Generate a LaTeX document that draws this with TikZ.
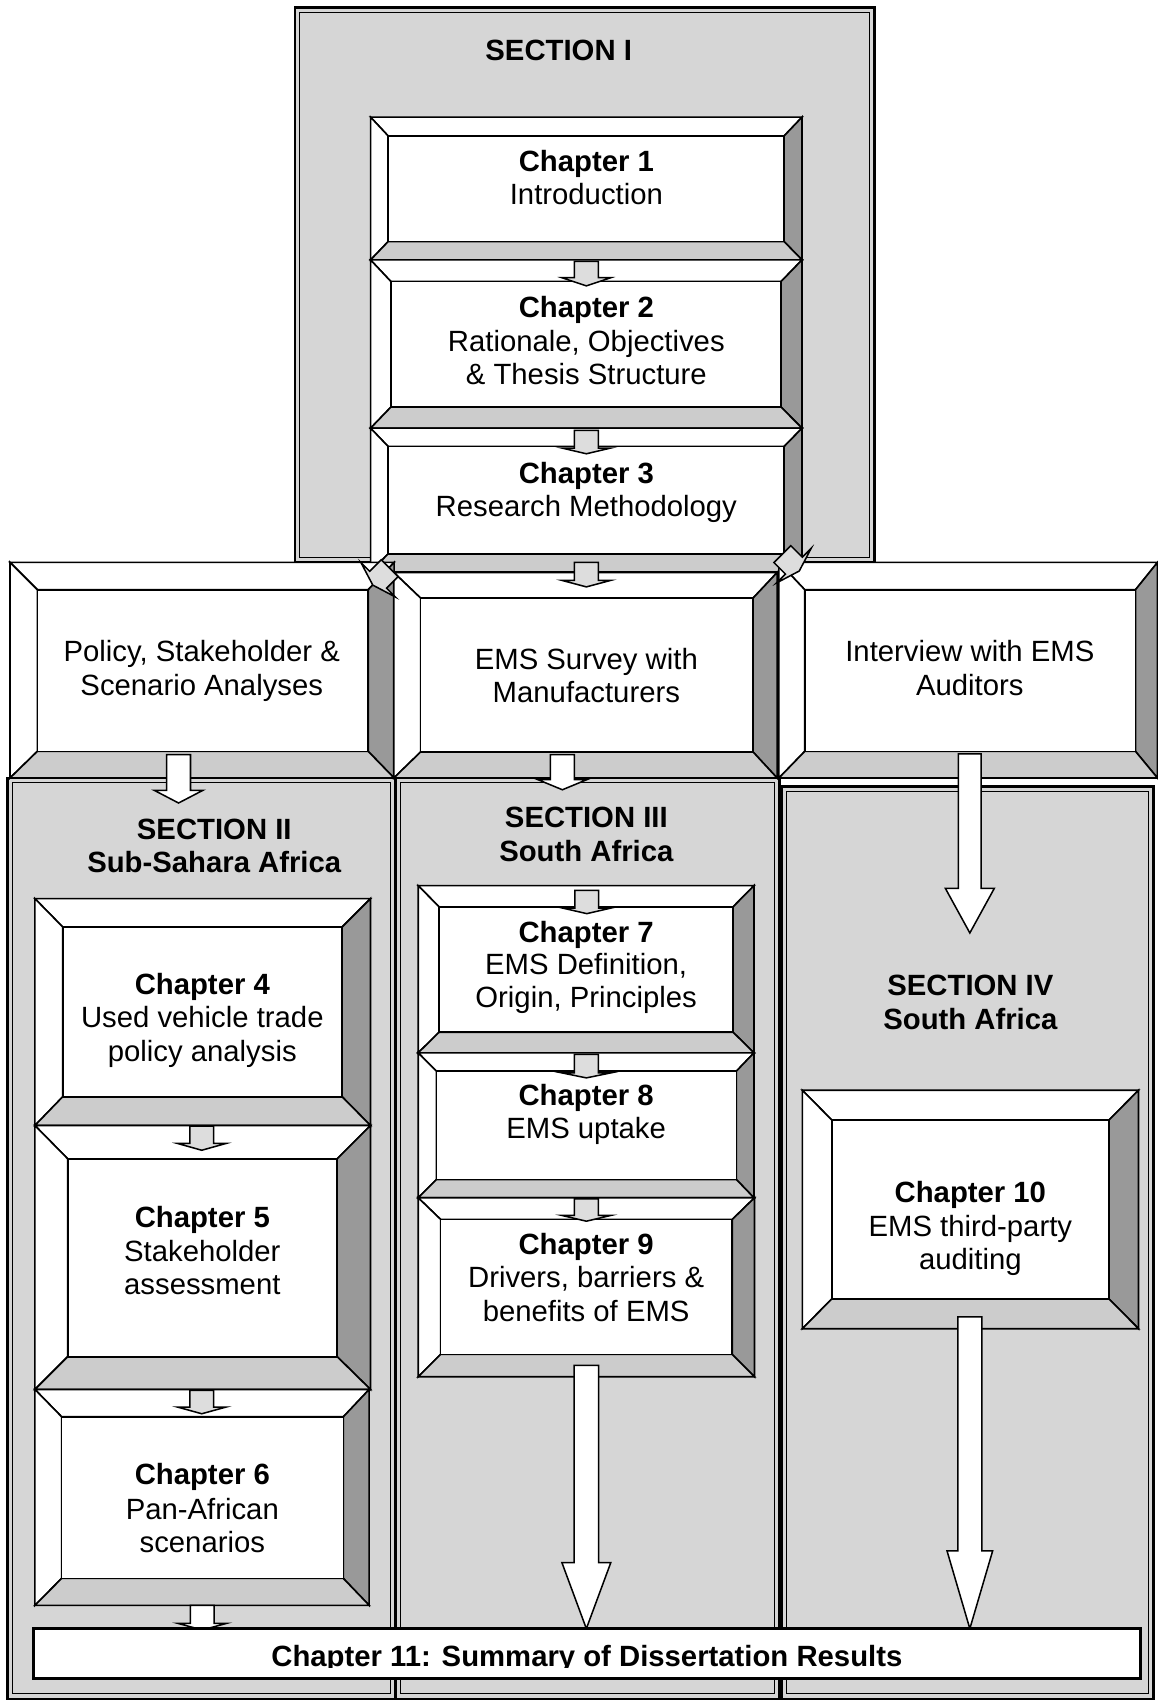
\documentclass[tikz,border=0pt]{standalone}
\usepackage{fontspec}
\setmainfont{Liberation Sans}
\usetikzlibrary{fit}
\definecolor{secfill}{RGB}{214,214,214}
\definecolor{bevdark}{RGB}{153,153,153}
\definecolor{bevlight}{RGB}{204,204,204}
\definecolor{arrgray}{RGB}{221,221,221}
\tikzset{
  bevline/.style={draw=black, line width=1.5pt, line join=miter},
  face/.style={draw=black, line width=1.5pt, fill=white, inner sep=0pt, outer sep=0pt},
  txt/.style={inner sep=0pt, anchor=base, font=\fontsize{27}{30.7}\selectfont},
  ttl/.style={inner sep=0pt, anchor=base, font=\fontsize{27}{30.7}\selectfont\bfseries},
  blockarr/.style={draw=black, line width=1.4pt, line join=miter},
  secframe/.style={fill=secfill, draw=black, line width=2.4pt, inner sep=0pt, outer sep=0pt},
  secinner/.style={draw=black, line width=0.9pt},
}
% bevelled box: name, outer x1 y1 x2 y2, inner a1 b1 a2 b2
\newcommand{\bevbox}[9]{%
  \filldraw[bevline, fill=white] (#2,#3) -- (#4,#3) -- (#8,#7) -- (#6,#7) -- cycle;
  \filldraw[bevline, fill=white] (#2,#3) -- (#6,#7) -- (#6,#9) -- (#2,#5) -- cycle;
  \filldraw[bevline, fill=bevdark] (#4,#3) -- (#4,#5) -- (#8,#9) -- (#8,#7) -- cycle;
  \filldraw[bevline, fill=bevlight] (#2,#5) -- (#4,#5) -- (#8,#9) -- (#6,#9) -- cycle;
  \node[face, fit={(#6,#7) (#8,#9)}] (#1) {};
}
% section frame: name, x1 y1 x2 y2
\newcommand{\secbox}[5]{%
  \node[secframe, fit={(#2,#3) (#4,#5)}] (#1) {};
  \draw[secinner] (#2+4.5,#3+4.5) rectangle (#4-4.5,#5-4.5);
}
% block arrow: fill, x, top, head base, tip, half shaft, half head
\newcommand{\barrow}[7]{%
  \filldraw[blockarr, fill=#1] (#2-#6,#3) -- (#2+#6,#3) -- (#2+#6,#4) -- (#2+#7,#4)
    -- (#2,#5) -- (#2-#7,#4) -- (#2-#6,#4) -- cycle;
}
\newcommand{\diagarrow}{%
  \filldraw[blockarr, fill=arrgray] (-11,0) -- (11,0) -- (11,15) -- (22.5,15) -- (0,22)
    -- (-22.5,15) -- (-11,15) -- cycle;
}
\begin{document}
\begin{tikzpicture}[x=1pt,y=-1pt]
\useasboundingbox (0,0) rectangle (1067,1568);

% ---------- section frames ----------
\secbox{sec1}{272}{6.8}{806}{518}
\node[ttl] (sec1t) at (515,55.5) {SECTION I};
\secbox{sec2}{6.8}{717.2}{364}{1566}
\secbox{sec3}{364.5}{717.2}{718.7}{1566}
\secbox{sec4}{720.5}{724.8}{1063.5}{1566}

% ---------- Section I chapters ----------
\bevbox{ch1}{341.6}{108}{739.3}{239.6}{357.8}{125.3}{722.8}{222.7}
\node[ttl] (ch1a) at (540.5,158.2) {Chapter 1};
\node[txt] (ch1b) at (540.5,188.9) {Introduction};

\bevbox{ch2}{341.6}{239.6}{739.3}{394.7}{360.3}{259.5}{720}{375.3}
\node[ttl] (ch2a) at (540.5,293) {Chapter 2};
\node[txt] (ch2b) at (540.5,323.7) {Rationale, Objectives};
\node[txt] (ch2c) at (540.5,354.4) {\& Thesis Structure};
\barrow{arrgray}{540.5}{241}{256}{263.5}{11}{22.5}

\bevbox{ch3}{341.6}{394.7}{739.3}{527.3}{357.8}{411.6}{722.8}{510.5}
\node[ttl] (ch3a) at (540.5,446) {Chapter 3};
\node[txt] (ch3b) at (540.5,476) {Research Methodology};
\barrow{arrgray}{540.5}{396.8}{413}{418.3}{11}{22.5}

% ---------- middle row ----------
\bevbox{pol}{9.2}{518.4}{363.3}{717.2}{34.4}{543.6}{339.4}{692.6}
\node[txt] (pola) at (186,609.7) {Policy, Stakeholder \&};
\node[txt] (polb) at (186,641) {Scenario Analyses};

\bevbox{ems}{363}{527.7}{716.4}{717.2}{387.7}{551.3}{694.2}{693.2}
\node[txt] (emsa) at (540.5,617.3) {EMS Survey with};
\node[txt] (emsb) at (540.5,648) {Manufacturers};

\bevbox{int}{718}{518.4}{1067}{717.2}{741.8}{543.6}{1046.7}{692.6}
\node[txt] (inta) at (894,609.7) {Interview with EMS};
\node[txt] (intb) at (894,641) {Auditors};

\barrow{arrgray}{540.5}{518.5}{535}{541}{11}{22.5}
\begin{scope}[shift={(359.2,523.8)}, rotate=-45]\diagarrow\end{scope}
\begin{scope}[shift={(721.2,510.8)}, rotate=45]\diagarrow\end{scope}

\barrow{white}{164.6}{695.7}{728.5}{740.2}{11}{22.5}
\barrow{white}{518.4}{695.7}{718.7}{728}{11}{22.5}
\barrow{white}{894}{695}{819}{860}{10.5}{22.5}

% ---------- section titles ----------
\node[ttl] (sec2a) at (197.5,774) {SECTION II};
\node[ttl] (sec2b) at (197.5,804.7) {Sub-Sahara Africa};
\node[ttl] (sec3a) at (540.5,762.5) {SECTION III};
\node[ttl] (sec3b) at (540.5,794) {South Africa};
\node[ttl] (sec4a) at (894.5,917.5) {SECTION IV};
\node[ttl] (sec4b) at (894.5,949) {South Africa};

% ---------- Section II chapters ----------
\bevbox{ch4}{32.2}{828.4}{341.5}{1037.5}{57.8}{854.5}{315.4}{1011}
\node[ttl] (ch4a) at (186.5,916.8) {Chapter 4};
\node[txt] (ch4b) at (186.5,947.5) {Used vehicle trade};
\node[txt] (ch4c) at (186.5,978.2) {policy analysis};

\bevbox{ch5}{32.2}{1037.5}{341.5}{1280.8}{62.4}{1068.2}{310.8}{1250.6}
\node[ttl] (ch5a) at (186.5,1131.2) {Chapter 5};
\node[txt] (ch5b) at (186.5,1162.5) {Stakeholder};
\node[txt] (ch5c) at (186.5,1193.2) {assessment};
\barrow{arrgray}{186}{1038}{1054}{1060.3}{11}{22.5}

\bevbox{ch6}{32.2}{1280.8}{340.3}{1479.8}{56.8}{1306}{316.5}{1455}
\node[ttl] (ch6a) at (186.5,1368.3) {Chapter 6};
\node[txt] (ch6b) at (186.5,1400.5) {Pan-African};
\node[txt] (ch6c) at (186.5,1431.3) {scenarios};
\barrow{arrgray}{186}{1281.7}{1297}{1303.2}{11}{22.5}

% ---------- Section III chapters ----------
\bevbox{ch7}{385.5}{816.4}{695}{970.5}{404.8}{836}{675.7}{951.5}
\node[ttl] (ch7a) at (540.3,868.6) {Chapter 7};
\node[txt] (ch7b) at (540.3,898.4) {EMS Definition,};
\node[txt] (ch7c) at (540.3,929.1) {Origin, Principles};
\barrow{arrgray}{540.9}{820.7}{837}{842.2}{11}{22.5}

\bevbox{ch8}{385.5}{970.5}{695}{1104.1}{402.3}{987.4}{678.8}{1087.3}
\node[ttl] (ch8a) at (540.3,1019) {Chapter 8};
\node[txt] (ch8b) at (540.3,1049.8) {EMS uptake};
\barrow{arrgray}{540.5}{972}{989}{993.6}{11}{22.5}

\bevbox{ch9}{385.5}{1104.1}{695.5}{1269.1}{406.2}{1124.1}{675}{1248.5}
\node[ttl] (ch9a) at (540.3,1156.4) {Chapter 9};
\node[txt] (ch9b) at (540.3,1187.1) {Drivers, barriers \&};
\node[txt] (ch9c) at (540.3,1217.8) {benefits of EMS};
\barrow{arrgray}{540.5}{1105}{1120.4}{1125.7}{11}{22.5}

% ---------- Section IV chapter ----------
\bevbox{ch10}{739.6}{1005}{1049.5}{1224.8}{766.9}{1032.6}{1022.1}{1197.2}
\node[ttl] (ch10a) at (894.5,1108.8) {Chapter 10};
\node[txt] (ch10b) at (894.5,1139.5) {EMS third-party};
\node[txt] (ch10c) at (894.5,1170.2) {auditing};

% ---------- arrows to summary ----------
\barrow{white}{186.4}{1479.8}{1496.4}{1502.5}{11}{22.5}
\barrow{white}{540.5}{1258.6}{1440.5}{1501.3}{11.3}{22.5}
\barrow{white}{894}{1213.8}{1429.7}{1501.3}{11}{21}

% ---------- Chapter 11 ----------
\node[draw=black, line width=3pt, fill=white, inner sep=0pt, fit={(30.6,1501.3) (1051.4,1547.4)}] (ch11) {};
\begin{scope}
  \clip (32,1503) rectangle (1050,1537.2);
  \node[ttl] (ch11t) at (541,1536) {Chapter 11: Summary of Dissertation Results};
\end{scope}
\end{tikzpicture}
\end{document}
